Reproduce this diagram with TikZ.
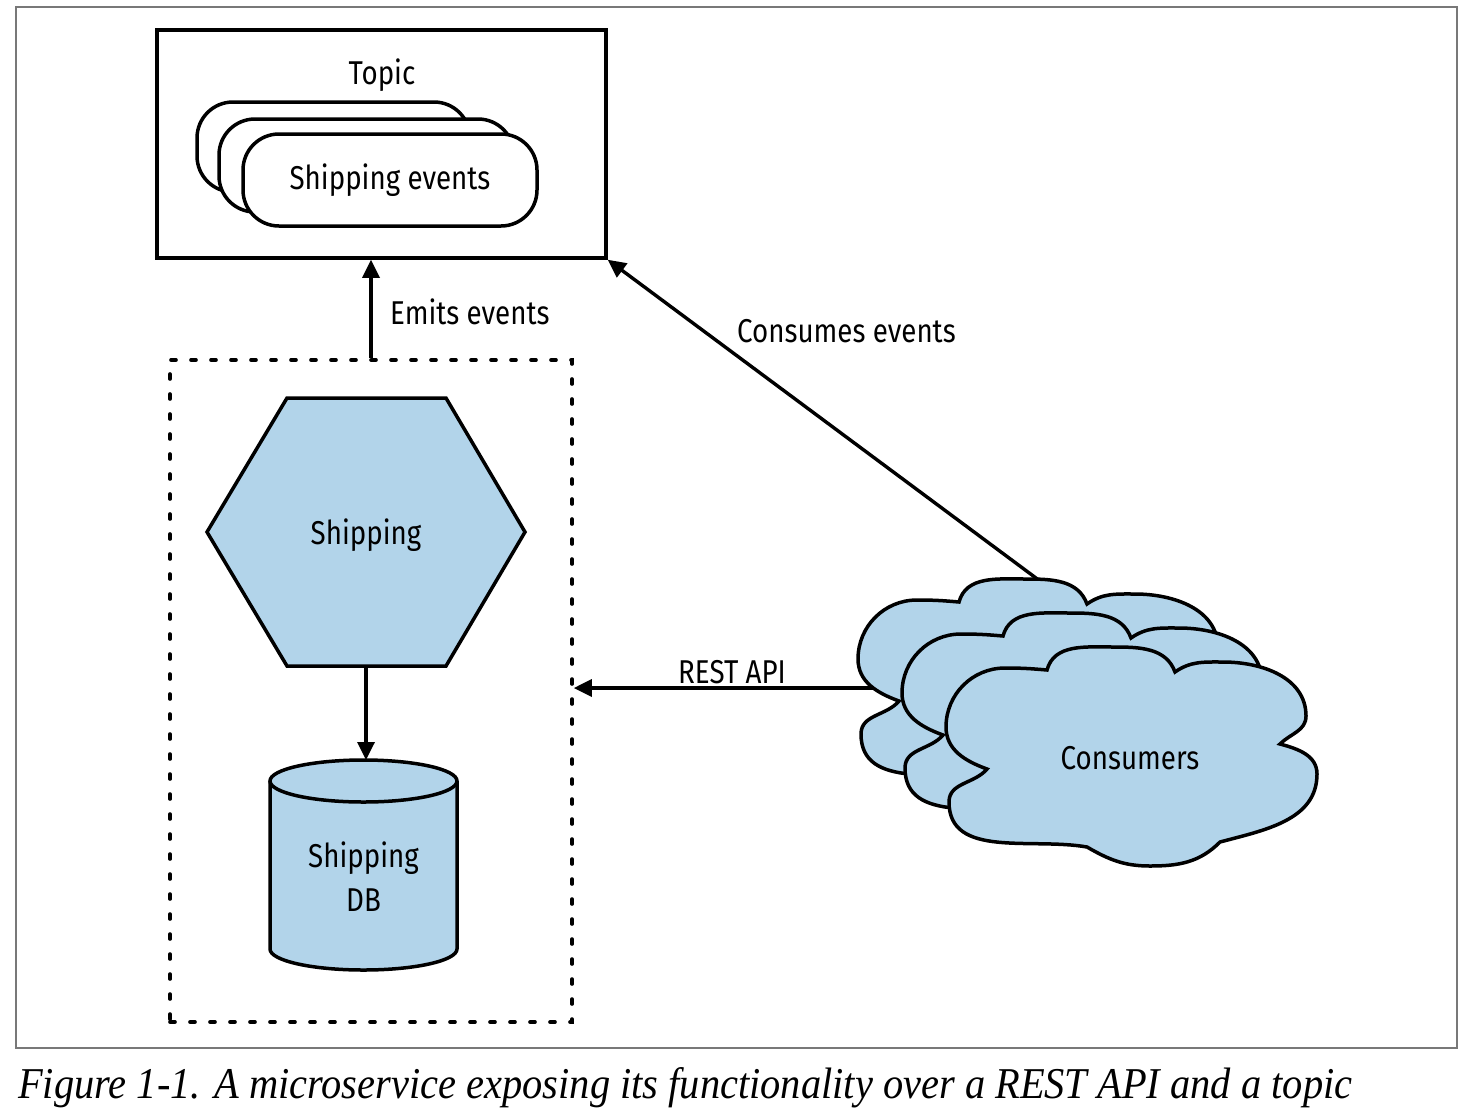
\documentclass[tikz,border=0pt]{standalone}
\usepackage{fontspec}
\usepackage{graphicx}
\setmainfont{Latin Modern Roman}
\newfontfamily\labfont[FakeStretch=0.84]{Fira Sans}
\newfontfamily\capfont{Liberation Serif}
\usetikzlibrary{arrows.meta}
\definecolor{svcblue}{RGB}{178,212,234}
\definecolor{framegray}{RGB}{120,120,120}
\tikzset{
  lab/.style={font=\labfont\fontsize{33}{36}\selectfont, inner sep=0pt},
  thick line/.style={line width=3.5pt, draw=black},
  conn/.style={line width=3.4pt, -{Triangle[length=18pt,width=17pt]}},
  evbox/.style={thick line, fill=white, rounded corners=36pt},
  cloudstyle/.style={line width=3.5pt, draw=black, fill=svcblue},
  dotbox/.style={line width=3.6pt, dash pattern=on 5pt off 15pt, line cap=round, draw=black},
  puffcloud/.pic={
    \filldraw[cloudstyle] (-143,-13) to[out=160,in=-90] (-184,29)
      to[out=90,in=180] (-125,88) to[out=0,in=175] (-83,86)
      to[out=75,in=180] (-17,109) to[out=0,in=110] (45,84)
      to[out=35,in=180] (93,94) to[out=0,in=90] (176,40)
      to[out=-90,in=45] (150,12) to[out=-15,in=90] (187,-18)
      to[out=-90,in=15] (90,-86) to[out=-135,in=0] (20,-110)
      to[out=180,in=-30] (-43,-91) to[out=170,in=-90] (-181,-46)
      to[out=90,in=-130] cycle;
  }
}
\begin{document}
\begin{tikzpicture}[x=1pt,y=-1pt]
\useasboundingbox (0,0) rectangle (1471,1114);
% outer frame
\draw[framegray, line width=1.3pt] (16,7) rectangle (1457,1048);

% topic box
\node[thick line, minimum width=449pt, minimum height=228pt, inner sep=0pt] (topic) at (381.5,144) {};
\node[lab] (topiclab) at (382,75) {Topic};
\draw[evbox] (197,102) rectangle (470,192);
\draw[evbox] (219,119) rectangle (514,212);
\draw[evbox] (243,134) rectangle (537,226);
\node[lab] (events) at (390,180) {Shipping events};

% service dotted box
\node[dotbox, minimum width=402pt, minimum height=662pt, inner sep=0pt] (svc) at (371,691) {};

% hexagon
\draw[thick line, fill=svcblue, line join=miter] (207,532) -- (287,398) -- (446,398) -- (525,532) -- (446,666) -- (287,666) -- cycle;
\node[lab] (ship) at (366,535) {Shipping};
\coordinate (hexbot) at (366,666);

% cylinder
\fill[svcblue] (270,781) -- (270,949) arc[start angle=180, end angle=360, x radius=93.5pt, y radius=21pt] -- (457,781) -- cycle;
\draw[thick line] (270,781) -- (270,949) arc[start angle=180, end angle=360, x radius=93.5pt, y radius=21pt] -- (457,781);
\draw[thick line, fill=svcblue] (363.5,781) ellipse[x radius=93.5pt, y radius=21pt];
\node[lab, align=center] (db) at (363.5,877) {Shipping\\[8pt]DB};
\coordinate (dbtop) at (366,760);

% anchor points inside the back cloud
\coordinate (cback) at (1042,688);
\coordinate (cbcon) at (1075,607);

% connectors (cloud ends are covered by the clouds)
\draw[conn] (hexbot) -- (dbtop);
\draw[conn] (svc.north) -- (svc.north |- topic.south);
\node[lab, anchor=west] (emits) at (390,312) {Emits events};
\draw[conn] (cbcon) -- (topic.south east);
\node[lab, anchor=west] (conslab) at (737,331) {Consumes events};
\draw[conn] (cback) -- (cback -| svc.east);
\node[lab] (rest) at (732,672) {REST API};

% clouds
\begin{scope}[shift={(1042,688)}, y=1pt] \pic {puffcloud}; \end{scope}
\begin{scope}[shift={(1086,722)}, y=1pt] \pic {puffcloud}; \end{scope}
\begin{scope}[shift={(1130,756)}, y=1pt] \pic {puffcloud}; \end{scope}
\node[lab] (cons) at (1130,758) {Consumers};

% caption
\node[anchor=base west, inner sep=0pt] (caption) at (18,1098) {\resizebox{1334pt}{\height}{\capfont\fontsize{44}{48}\selectfont\itshape Figure 1-1. A microservice exposing its functionality over a REST API and a topic}};
\end{tikzpicture}
\end{document}
